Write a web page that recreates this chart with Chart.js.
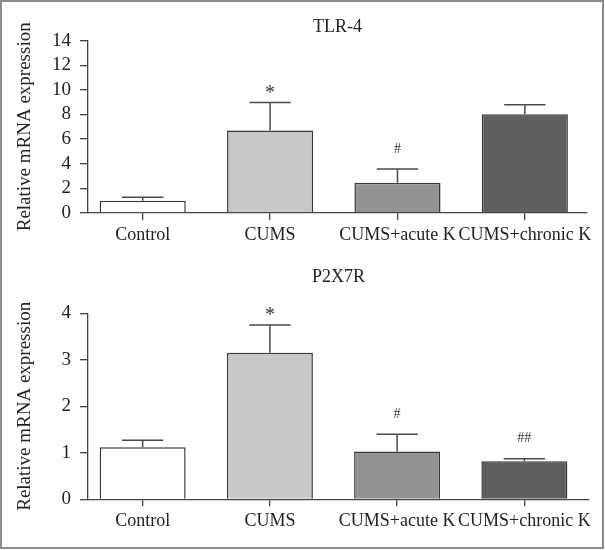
<!DOCTYPE html>
<html>
<head>
<meta charset="utf-8">
<script src="https://cdn.jsdelivr.net/npm/chart.js@4/dist/chart.umd.min.js"></script>
<style>
  body { margin: 0; background: #fff; }
  canvas { position: absolute; left: 0; }
  #c1 { top: 0; }
  #c2 { top: 260px; }
  #frame {
    position: absolute; left: 0; top: 0; width: 604px; height: 549px;
    box-sizing: border-box; border: 2px solid #8a8a8a; pointer-events: none;
  }
</style>
</head>
<body>
<canvas id="c1" width="605" height="260"></canvas>
<canvas id="c2" width="605" height="290"></canvas>
<div id="frame"></div>
<script>
const categories = ['Control', 'CUMS', 'CUMS+acute K', 'CUMS+chronic K'];
const barColors = ['#ffffff', '#c8c8c8', '#939393', '#5f5f5f'];

const tlr4Mean = [1.0, 6.7, 2.46, 8.02];
const tlr4Err = [0.27, 2.27, 1.11, 0.78];
const tlr4Sig = ['', '*', '#', ''];

const p2x7rMean = [1.12, 3.15, 1.03, 0.82];
const p2x7rErr = [0.15, 0.6, 0.37, 0.05];
const p2x7rSig = ['', '*', '#', '##'];

Chart.defaults.font.family = "'Liberation Serif', 'DejaVu Serif', serif";
Chart.defaults.color = '#222';

// error bars (upper only) + significance marks
const errorBars = {
  id: 'errorBars',
  afterDatasetsDraw(chart, args, opts) {
    const ctx = chart.ctx;
    const y = chart.scales.y;
    const meta = chart.getDatasetMeta(0);
    const vals = chart.data.datasets[0].data;
    ctx.save();
    ctx.strokeStyle = '#4a4a4a';
    ctx.lineWidth = 1.5;
    ctx.fillStyle = '#333';
    ctx.textAlign = 'center';
    ctx.textBaseline = 'alphabetic';
    meta.data.forEach((bar, i) => {
      const top = y.getPixelForValue(vals[i].y + opts.errors[i]);
      const half = bar.width * 0.24;
      ctx.beginPath();
      ctx.moveTo(bar.x, bar.y);
      ctx.lineTo(bar.x, top);
      ctx.moveTo(bar.x - half, top);
      ctx.lineTo(bar.x + half, top);
      ctx.stroke();
      const mark = opts.marks[i];
      if (mark) {
        const hash = mark.startsWith('#');
        ctx.font = (hash ? 14 : 20) + "px 'Liberation Serif', serif";
        ctx.fillText(mark, bar.x, top - (hash ? 16.5 : 4));
      }
    });
    ctx.restore();
  }
};

function makeChart(id, title, means, errors, marks, yMax, yStep, cfg) {
  return new Chart(document.getElementById(id), {
    type: 'bar',
    data: {
      datasets: [{
        data: means.map((v, i) => ({ x: i, y: v })),
        backgroundColor: barColors,
        borderColor: '#3a3a3a',
        borderWidth: 1.5,
        categoryPercentage: 1,
        barPercentage: 0.676
      }]
    },
    options: {
      responsive: false,
      animation: false,
      layout: { padding: { left: 0, right: cfg.right, top: 0, bottom: 0 } },
      plugins: {
        legend: { display: false },
        tooltip: { enabled: false },
        title: {
          display: true,
          fullSize: false,
          text: title,
          color: '#222',
          font: { size: 18, weight: 'normal' },
          padding: { top: cfg.titleTop, bottom: cfg.titleBottom }
        },
        errorBars: { errors: errors, marks: marks }
      },
      scales: {
        x: {
          type: 'linear',
          offset: false,
          min: -0.4295,
          max: cfg.xMax,
          afterBuildTicks: s => { s.ticks = categories.map((c, i) => ({ value: i })); },
          afterFit: s => { s.height = cfg.xHeight; },
          ticks: {
            callback: v => categories[v],
            font: { size: 18 },
            color: '#222',
            padding: 4,
            maxRotation: 0,
            autoSkip: false
          },
          grid: { display: true, offset: false, drawOnChartArea: false, tickLength: 7, color: '#444', lineWidth: 1.3 },
          border: { display: true, color: '#444', width: 1.3 }
        },
        y: {
          min: 0,
          max: yMax,
          afterFit: s => { s.width = 88; },
          ticks: { stepSize: yStep, autoSkip: false, font: { size: 19 }, color: '#222', padding: 9 },
          grid: { display: true, drawOnChartArea: false, tickLength: 8, color: '#444', lineWidth: 1.3 },
          border: { display: true, color: '#444', width: 1.3 },
          title: {
            display: true,
            text: 'Relative mRNA expression',
            color: '#222',
            font: { size: 19 },
            padding: { top: 14, bottom: 0 }
          }
        }
      }
    },
    plugins: [errorBars]
  });
}

makeChart('c1', 'TLR-4', tlr4Mean, tlr4Err, tlr4Sig, 14, 2,
  { right: 18, xMax: 3.488, xHeight: 47, titleTop: 16, titleBottom: 3 });
makeChart('c2', 'P2X7R', p2x7rMean, p2x7rErr, p2x7rSig, 4, 1,
  { right: 16, xMax: 3.508, xHeight: 50.7, titleTop: 6, titleBottom: 25.7 });
</script>
</body>
</html>
